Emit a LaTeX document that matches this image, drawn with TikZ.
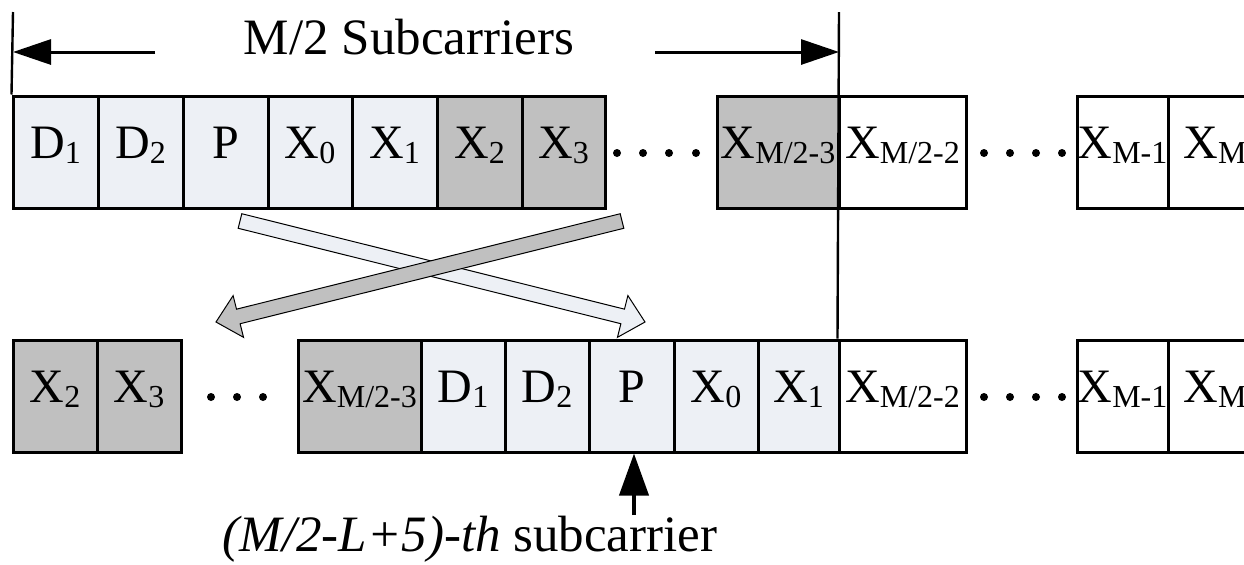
\documentclass[tikz,border=0pt]{standalone}
\usepackage{fontspec}
\setmainfont{LiberationSerif}[
  Extension=.ttf,
  UprightFont=*-Regular,
  ItalicFont=*-Italic,
  BoldFont=*-Bold,
  BoldItalicFont=*-BoldItalic]
\usetikzlibrary{arrows.meta,calc}

\definecolor{paleblue}{HTML}{EDF0F5}
\definecolor{midgrey}{HTML}{C0C0C0}

% lowered, smaller index text
\newcommand\sbx[1]{\raisebox{-2.5pt}{\fontsize{16}{16}\selectfont #1}}
% one subcarrier slot: name, left x, right x, centre y, fill, text
\newcommand\slot[6]{\node[cellbox,fill=#5,minimum width={(#3-#2)*0.5pt}] (#1) at ({(#2+#3)/2},#4) {#6};}
% broad outlined arrow from #1 to #2 filled with #3
\newcommand\swaparrow[3]{%
  \coordinate (hb) at ($(#2)!11.5pt!(#1)$);
  \filldraw[fill=#3,draw=black,line width=0.5pt,line join=miter]
    ($(#1)!3.75pt!90:(#2)$) -- ($(hb)!3.75pt!-90:(#1)$) -- ($(hb)!10.75pt!-90:(#1)$)
    -- (#2) -- ($(hb)!10.75pt!90:(#1)$) -- ($(hb)!3.75pt!90:(#1)$)
    -- ($(#1)!3.75pt!-90:(#2)$) -- cycle;}

\tikzset{
  cellbox/.style={draw,line width=1.5pt,minimum height=56pt,inner sep=0pt,
    text height=0.66em,text depth=0pt,font=\fontsize{24}{28}\selectfont},
  label/.style={inner sep=0pt,text height=0.66em,text depth=0pt,
    font=\fontsize{25.5}{30}\selectfont},
  span/.style={line width=1.5pt,-{Triangle[length=19pt,width=12.5pt]}},
  guide/.style={line width=1.2pt},
  pointer/.style={line width=2pt,-{Triangle[length=21pt,width=14.5pt]}},
  dotmark/.style={fill=black}
}

\begin{document}
\begin{tikzpicture}[x=0.5pt,y=-0.5pt]
\useasboundingbox (0,0) rectangle (1244,564);
\clip (0,0) rectangle (1244,564);

% original order of subcarriers
\slot{tD1}{13}{98}{152}{paleblue}{D\sbx{1}}
\slot{tD2}{98}{183}{152}{paleblue}{D\sbx{2}}
\slot{tP}{183}{268}{152}{paleblue}{P}
\slot{tX0}{268}{352}{152}{paleblue}{X\sbx{0}}
\slot{tX1}{352}{437}{152}{paleblue}{X\sbx{1}}
\slot{tX2}{437}{522}{152}{midgrey}{X\sbx{2}}
\slot{tX3}{522}{605}{152}{midgrey}{X\sbx{3}}
\slot{tXa}{717}{839}{152}{midgrey}{X\sbx{M/2-3}}
\slot{tXb}{839}{966}{152}{white}{X\sbx{M/2-2}}
\slot{tXc}{1077}{1168}{152}{white}{X\sbx{M-1}}
\slot{tXd}{1168}{1262}{152}{white}{X\sbx{M}}

% cyclically shifted order
\slot{bX2}{13}{97}{396}{midgrey}{X\sbx{2}}
\slot{bX3}{97}{181}{396}{midgrey}{X\sbx{3}}
\slot{bXa}{298}{421}{396}{midgrey}{X\sbx{M/2-3}}
\slot{bD1}{421}{505}{396}{paleblue}{D\sbx{1}}
\slot{bD2}{505}{589}{396}{paleblue}{D\sbx{2}}
\slot{bP}{589}{674}{396}{paleblue}{P}
\slot{bX0}{674}{758}{396}{paleblue}{X\sbx{0}}
\slot{bX1}{758}{839}{396}{paleblue}{X\sbx{1}}
\slot{bXb}{839}{966}{396}{white}{X\sbx{M/2-2}}
\slot{bXc}{1077}{1168}{396}{white}{X\sbx{M-1}}
\slot{bXd}{1168}{1262}{396}{white}{X\sbx{M}}

% ellipses
\foreach \x in {617,643,669,696,984,1010,1036,1062} \fill[dotmark] (\x,153) circle (2pt);
\foreach \x in {211,237,263} \fill[dotmark] (\x,397) circle (2pt);
\foreach \x in {984,1010,1036,1062} \fill[dotmark] (\x,397) circle (2pt);

% span of the first half
\coordinate (ltop) at (13,12);
\coordinate (rtop) at (839,12);
\draw[guide] (ltop) -- (tD1.north west);
\draw[guide] (rtop) -- (bXb.north west);
\node[label] (title) at (409,48) {M/2 Subcarriers};
\coordinate (la) at (155,52);
\coordinate (ra) at (655,52);
\draw[span] (la) -- (la -| ltop);
\draw[span] (ra) -- (ra -| rtop);

% swap arrows
\coordinate (s1) at (240,221);
\coordinate (e1) at (645,322);
\coordinate (s2) at (622,221);
\coordinate (e2) at (216,322);
\swaparrow{s1}{e1}{paleblue}
\swaparrow{s2}{e2}{midgrey}

% pilot position marker
\coordinate (ua) at (634,515);
\draw[pointer] (ua) -- (ua |- bP.south);
\node[label] (pos) at (470,545) {\textit{(M/2-L+5)-th} subcarrier};
\end{tikzpicture}
\end{document}
